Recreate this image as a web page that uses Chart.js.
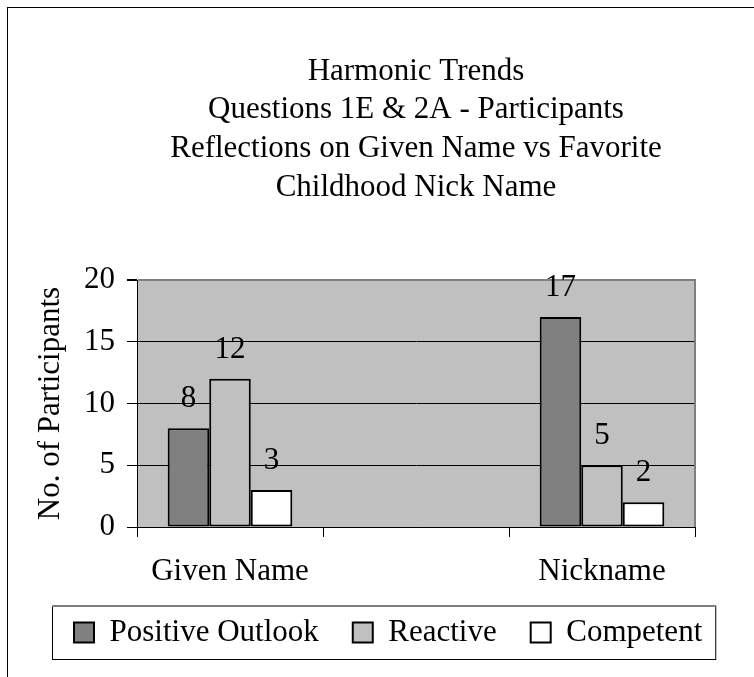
<!DOCTYPE html>
<html>
<head>
<meta charset="utf-8">
<script src="https://cdn.jsdelivr.net/npm/chart.js@4.4.1/dist/chart.umd.min.js"></script>
<style>
  html, body { margin: 0; padding: 0; background: #fff; overflow: hidden; }
  #wrap { position: relative; width: 754px; height: 677px; }
  #frame { position: absolute; left: 7px; top: 7px; width: 800px; height: 700px;
           border-left: 1px solid #000; border-top: 1px solid #000; }
  #chart { position: absolute; left: 0; top: 0; }
</style>
</head>
<body>
<div id="wrap">
  <div id="frame"></div>
  <canvas id="chart" width="754" height="677"></canvas>
</div>
<script>
// data (middle category is an empty slot)
var categories = ["Given Name", "", "Nickname"];
var positiveOutlook = [8, null, 17];
var reactive = [12, null, 5];
var competent = [3, null, 2];
var yTicks = [0, 5, 10, 15, 20];
var titleLines = [
    "Harmonic Trends",
    "Questions 1E & 2A - Participants",
    "Reflections on Given Name vs Favorite",
    "Childhood Nick Name"
];

Chart.defaults.font.family = "'Liberation Serif', 'Times New Roman', serif";
Chart.defaults.font.size = 31;
Chart.defaults.color = "#000";

// grey plot area with a grey edge on the right
var plotBackground = {
    id: "plotBackground",
    beforeDraw: function(chart) {
        var a = chart.chartArea, ctx = chart.ctx;
        ctx.save();
        ctx.fillStyle = "#c0c0c0";
        ctx.fillRect(a.left, a.top, a.right - a.left, a.bottom - a.top);
        ctx.restore();
    },
    beforeDatasetsDraw: function(chart) {
        var a = chart.chartArea, ctx = chart.ctx;
        ctx.save();
        ctx.strokeStyle = "#808080";
        ctx.lineWidth = 2;
        ctx.beginPath();
        ctx.moveTo(a.right, a.top - 1);
        ctx.lineTo(a.right, a.bottom);
        ctx.stroke();
        ctx.restore();
    }
};

// value labels above the bars
var valueLabels = {
    id: "valueLabels",
    afterDatasetsDraw: function(chart) {
        var ctx = chart.ctx;
        ctx.save();
        ctx.font = "31px 'Liberation Serif', 'Times New Roman', serif";
        ctx.fillStyle = "#000";
        ctx.textAlign = "center";
        ctx.textBaseline = "alphabetic";
        chart.data.datasets.forEach(function(ds, i) {
            chart.getDatasetMeta(i).data.forEach(function(bar, j) {
                if (ds.data[j] == null) return;
                ctx.fillText(ds.data[j], bar.x, bar.y - 21);
            });
        });
        ctx.restore();
    }
};

// box round the legend
var legendBox = {
    id: "legendBox",
    afterDraw: function(chart) {
        var lg = chart.legend, ctx = chart.ctx;
        if (!lg || !lg.legendHitBoxes.length) return;
        var boxes = lg.legendHitBoxes;
        var last = boxes[boxes.length - 1];
        var x0 = boxes[0].left - 22, x1 = last.left + last.width + 13;
        var y0 = lg.top + 23, y1 = lg.top + 76;
        ctx.save();
        ctx.strokeStyle = "#000";
        ctx.lineWidth = 1;
        ctx.strokeRect(x0 + 0.5, y0 + 0.5, x1 - x0, y1 - y0);
        ctx.strokeStyle = "#808080";
        ctx.lineWidth = 2;
        ctx.beginPath();
        ctx.moveTo(x0, y0);
        ctx.lineTo(x1 + 1, y0);
        ctx.stroke();
        ctx.restore();
    }
};

var chart = new Chart(document.getElementById("chart"), {
    type: "bar",
    data: {
        labels: categories,
        datasets: [
            { label: "Positive Outlook", data: positiveOutlook, backgroundColor: "#808080" },
            { label: "Reactive", data: reactive, backgroundColor: "#c0c0c0" },
            { label: "Competent", data: competent, backgroundColor: "#ffffff" }
        ]
    },
    options: {
        responsive: false,
        animation: false,
        devicePixelRatio: 1,
        layout: { padding: { left: 40, right: 0, top: 0, bottom: 19 } },
        datasets: {
            bar: {
                borderColor: "#000",
                borderWidth: 2,
                borderSkipped: false,
                barPercentage: 1,
                categoryPercentage: 0.67
            }
        },
        plugins: {
            title: {
                display: true,
                text: titleLines,
                fullSize: false,
                color: "#000",
                font: { size: 31, weight: "normal", lineHeight: 1.25 },
                padding: { top: 52, bottom: 73 }
            },
            legend: {
                position: "bottom",
                align: "start",
                labels: { boxWidth: 20, boxHeight: 20, padding: 34, color: "#000" }
            },
            tooltip: { enabled: false }
        },
        scales: {
            x: {
                afterFit: function(s) { s.height = 56; },
                grid: {
                    offset: true,
                    drawOnChartArea: false,
                    drawTicks: true,
                    tickLength: 10,
                    color: "#000"
                },
                border: { color: "#000", width: 1 },
                ticks: { padding: 16, maxRotation: 0, autoSkip: false }
            },
            y: {
                min: 0,
                max: 20,
                afterFit: function(s) { s.width = 97; },
                afterBuildTicks: function(s) {
                    s.ticks = yTicks.map(function(v) { return { value: v }; });
                },
                grid: {
                    color: function(c) { return c.tick && c.tick.value === 20 ? "#808080" : "#000"; },
                    lineWidth: function(c) { return c.tick && c.tick.value === 20 ? 2 : 1; },
                    tickColor: "#000",
                    tickLength: 10
                },
                border: { color: "#000", width: 1 },
                ticks: { padding: 12 },
                title: {
                    display: true,
                    text: "No. of Participants",
                    font: { size: 31 },
                    padding: { top: -8, bottom: 0 }
                }
            },
            // empty strip on the right of the plot, keeps the legend wide
            rightSpace: {
                type: "linear",
                position: "right",
                afterFit: function(s) { s.width = 59; },
                grid: { display: false },
                border: { display: false },
                ticks: { display: false }
            }
        }
    },
    plugins: [plotBackground, valueLabels, legendBox]
});
</script>
</body>
</html>
